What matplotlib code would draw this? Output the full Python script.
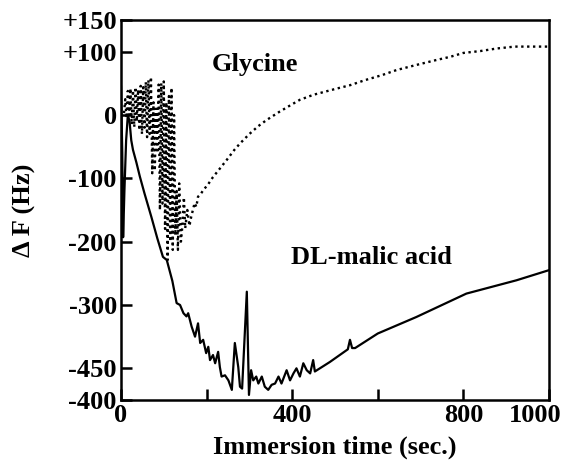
import matplotlib.pyplot as plt
from matplotlib.transforms import ScaledTranslation

# ============================================================
#  Donnees
# ============================================================
gly_t = [7, 10, 13, 16, 19, 22, 25, 28, 31, 34, 37, 40, 43, 46, 49, 52, 55,
         58, 61, 64, 67, 70, 73, 76, 79, 82, 85, 88, 91, 94, 97, 100, 103,
         106, 109, 112, 115, 118, 121, 124, 127, 130, 133, 136, 140, 144,
         147, 150, 155, 160, 164, 168, 172, 176, 180, 186, 193, 203, 215,
         227, 247, 265, 278, 300, 320, 340, 370, 400, 418, 450, 500, 535,
         570, 610, 644, 690, 738, 770, 800, 840, 878, 920, 960, 1000]
gly_v = [3, 25, -5, 38, 0, 42, -15, 39, -19, 44, -10, 40, -24, 46, -30, 44,
         -20, 52, -35, 55, -30, 60, -92, 20, -88, 10, -60, 48, -150, 50,
         -140, 53, -180, 20, -229, 30, -200, 43, -213, 0, -190, -120, -213,
         -108, -200, -171, -130, -179, -150, -175, -161, -150, -139, -145,
         -129, -125, -118, -110, -98, -88, -71, -55, -45, -30, -18, -8, 5,
         17, 24, 32, 41, 47, 55, 63, 71, 79, 87, 92, 98, 101, 105, 108, 108,
         108]

mal_t = [0, 3, 5, 8, 12, 16, 20, 24, 28, 36, 44, 55, 71, 85, 98, 107, 120,
         130, 138, 146, 153, 157, 165, 173, 180, 185, 192, 199, 204, 208,
         215, 220, 227, 231, 235, 243, 251, 259, 266, 274, 278, 283, 294,
         299, 304, 309, 316, 321, 329, 336, 344, 352, 360, 368, 375, 387,
         395, 403, 410, 418, 426, 434, 442, 449, 453, 488, 530, 535, 540,
         547, 600, 690, 807, 924, 1000]
mal_v = [45, -60, -193, -120, -40, 0, -10, -40, -55, -75, -97, -124, -161,
         -195, -224, -229, -262, -297, -300, -313, -318, -313, -334, -350,
         -329, -360, -355, -376, -366, -387, -379, -392, -374, -398, -413,
         -411, -419, -434, -360, -398, -429, -432, -279, -442, -403, -419,
         -413, -424, -413, -429, -434, -426, -424, -413, -424, -403, -419,
         -408, -400, -413, -392, -403, -408, -387, -405, -390, -370, -355,
         -368, -368, -345, -319, -282, -261, -245]

y_ticks = [150, 100, 0, -100, -200, -300, -400, -450]
y_labels = ['+150', '+100', '0', '-100', '-200', '-300', '-450', '-400']
x_ticks = [0, 200, 400, 600, 800, 1000]
x_labels = ['0', '', '400', '', '800', '1000']

# ============================================================
#  Figure
# ============================================================
plt.rcParams['font.family'] = 'Liberation Serif'
plt.rcParams['font.weight'] = 'bold'
fs = 19

fig = plt.figure(figsize=(5.63, 4.65), dpi=100)
ax = fig.add_axes([0.2149, 0.1398, 0.7602, 0.8172])

ax.plot(gly_t, gly_v, color='black', linestyle=(0, (1, 1.5)), linewidth=1.7)
ax.plot(mal_t, mal_v, color='black', linewidth=1.6)

ax.set_xlim(0, 1000)
ax.set_ylim(-450, 150)
ax.set_xticks(x_ticks)
ax.set_xticklabels(x_labels, fontsize=fs, fontweight='bold')
ax.set_yticks(y_ticks)
ax.set_yticklabels(y_labels, fontsize=fs, fontweight='bold')
ax.tick_params(direction='in', length=8, width=1.8, pad=3)
for s in ax.spines.values():
    s.set_linewidth(1.8)

# le "1000" est decale vers la gauche dans l'original
lab = ax.get_xticklabels()[-1]
lab.set_transform(lab.get_transform() + ScaledTranslation(-10 / 72, 0, fig.dpi_scale_trans))

ax.text(313, 80, 'Glycine', fontsize=fs, fontweight='bold', ha='center', va='center')
ax.text(585, -225, 'DL-malic acid', fontsize=fs, fontweight='bold', ha='center', va='center')

ax.set_xlabel('Immersion time (sec.)', fontsize=fs, fontweight='bold', labelpad=6)
ax.set_ylabel('Δ F (Hz)', fontsize=fs, fontweight='bold', labelpad=19)

fig.savefig('out.png', dpi=100)
